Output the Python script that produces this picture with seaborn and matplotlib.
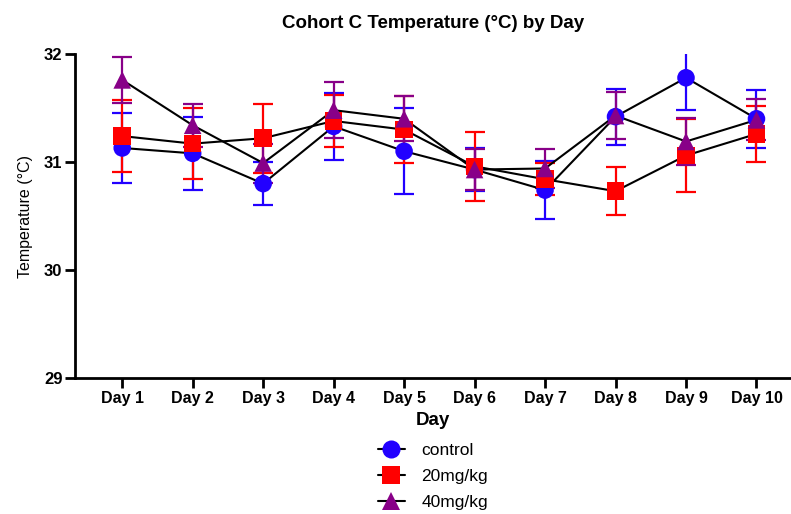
import matplotlib
matplotlib.use("Agg")
import matplotlib.pyplot as plt
from matplotlib.lines import Line2D
import seaborn as sns
import pandas as pd

days = ["Day 1", "Day 2", "Day 3", "Day 4", "Day 5", "Day 6", "Day 7", "Day 8", "Day 9", "Day 10"]
groups = ["control", "20mg/kg", "40mg/kg"]

control_mean = [31.13, 31.08, 30.80, 31.33, 31.10, 30.93, 30.74, 31.42, 31.78, 31.40]
control_err = [0.32, 0.34, 0.20, 0.31, 0.40, 0.20, 0.27, 0.26, 0.30, 0.27]
mg20_mean = [31.24, 31.17, 31.22, 31.38, 31.30, 30.96, 30.84, 30.73, 31.06, 31.26]
mg20_err = [0.33, 0.33, 0.32, 0.24, 0.31, 0.32, 0.15, 0.225, 0.34, 0.26]
mg40_mean = [31.76, 31.34, 30.99, 31.48, 31.40, 30.93, 30.94, 31.43, 31.19, 31.39]
mg40_err = [0.21, 0.20, 0.18, 0.26, 0.21, 0.19, 0.18, 0.22, 0.22, 0.19]

colors = {"control": "#2200FF", "20mg/kg": "#FF0000", "40mg/kg": "#880088"}
markers = {"control": "o", "20mg/kg": "s", "40mg/kg": "^"}

means = {"control": control_mean, "20mg/kg": mg20_mean, "40mg/kg": mg40_mean}
errs = {"control": control_err, "20mg/kg": mg20_err, "40mg/kg": mg40_err}

rows = []
for g in groups:
    for i, d in enumerate(days):
        rows.append({"group": g, "day": d, "x": i, "mean": means[g][i], "err": errs[g][i]})
df = pd.DataFrame(rows)

sns.set_style("ticks")
plt.rcParams["font.family"] = ["Liberation Sans", "DejaVu Sans"]
plt.rcParams["text.color"] = "black"
plt.rcParams["axes.labelcolor"] = "black"
plt.rcParams["xtick.color"] = "black"
plt.rcParams["ytick.color"] = "black"

fig = plt.figure(figsize=(7.91, 5.14), dpi=100)
ax = fig.add_axes([75 / 791, 1 - 378 / 514, 1 - 75 / 791, (378 - 54) / 514])

# error bars
for g in groups:
    sub = df[df["group"] == g]
    ax.errorbar(sub["x"], sub["mean"], yerr=sub["err"], fmt="none",
                ecolor=colors[g], elinewidth=1.6, capsize=7.5, capthick=1.6, zorder=2)

# connecting lines
sns.lineplot(data=df, x="x", y="mean", units="group", estimator=None,
             color="black", linewidth=1.5, ax=ax, zorder=3, legend=False)

# markers
sns.scatterplot(data=df, x="x", y="mean", hue="group", style="group",
                markers=markers, palette=colors, s=160, linewidth=0,
                ax=ax, zorder=4, legend=False)

ax.set_xlim(-0.67, 9.49)
ax.set_ylim(29, 32)
ax.set_xticks(range(len(days)))
ax.set_xticklabels(days, fontsize=11.5, fontweight="bold")
ax.set_yticks([29, 30, 31, 32])
ax.set_yticklabels(["29", "30", "31", "32"], fontsize=12, fontweight="bold")
ax.tick_params(axis="both", length=7, width=2, color="black", pad=2)
for s in ["left", "bottom"]:
    ax.spines[s].set_linewidth(2)
    ax.spines[s].set_color("black")
sns.despine(ax=ax)

ax.set_xlabel("Day", fontsize=13.5, fontweight="bold", labelpad=5)
ax.set_ylabel("Temperature (°C)", fontsize=11.5, labelpad=8)
ax.set_title("Cohort C Temperature (°C) by Day", fontsize=13.5, fontweight="bold", pad=19)

handles = [Line2D([0], [0], color="black", linewidth=1.5, marker=markers[g],
                  markerfacecolor=colors[g], markeredgewidth=0, markersize=13)
           for g in groups]
fig.legend(handles, groups, loc="upper center",
           bbox_to_anchor=((75 + 791) / 2 / 791, 1 - 431 / 514),
           frameon=False, fontsize=12.5, handlelength=1.55, handletextpad=0.95,
           labelspacing=0.62, borderpad=0.2)

fig.savefig("out.png", dpi=100)
